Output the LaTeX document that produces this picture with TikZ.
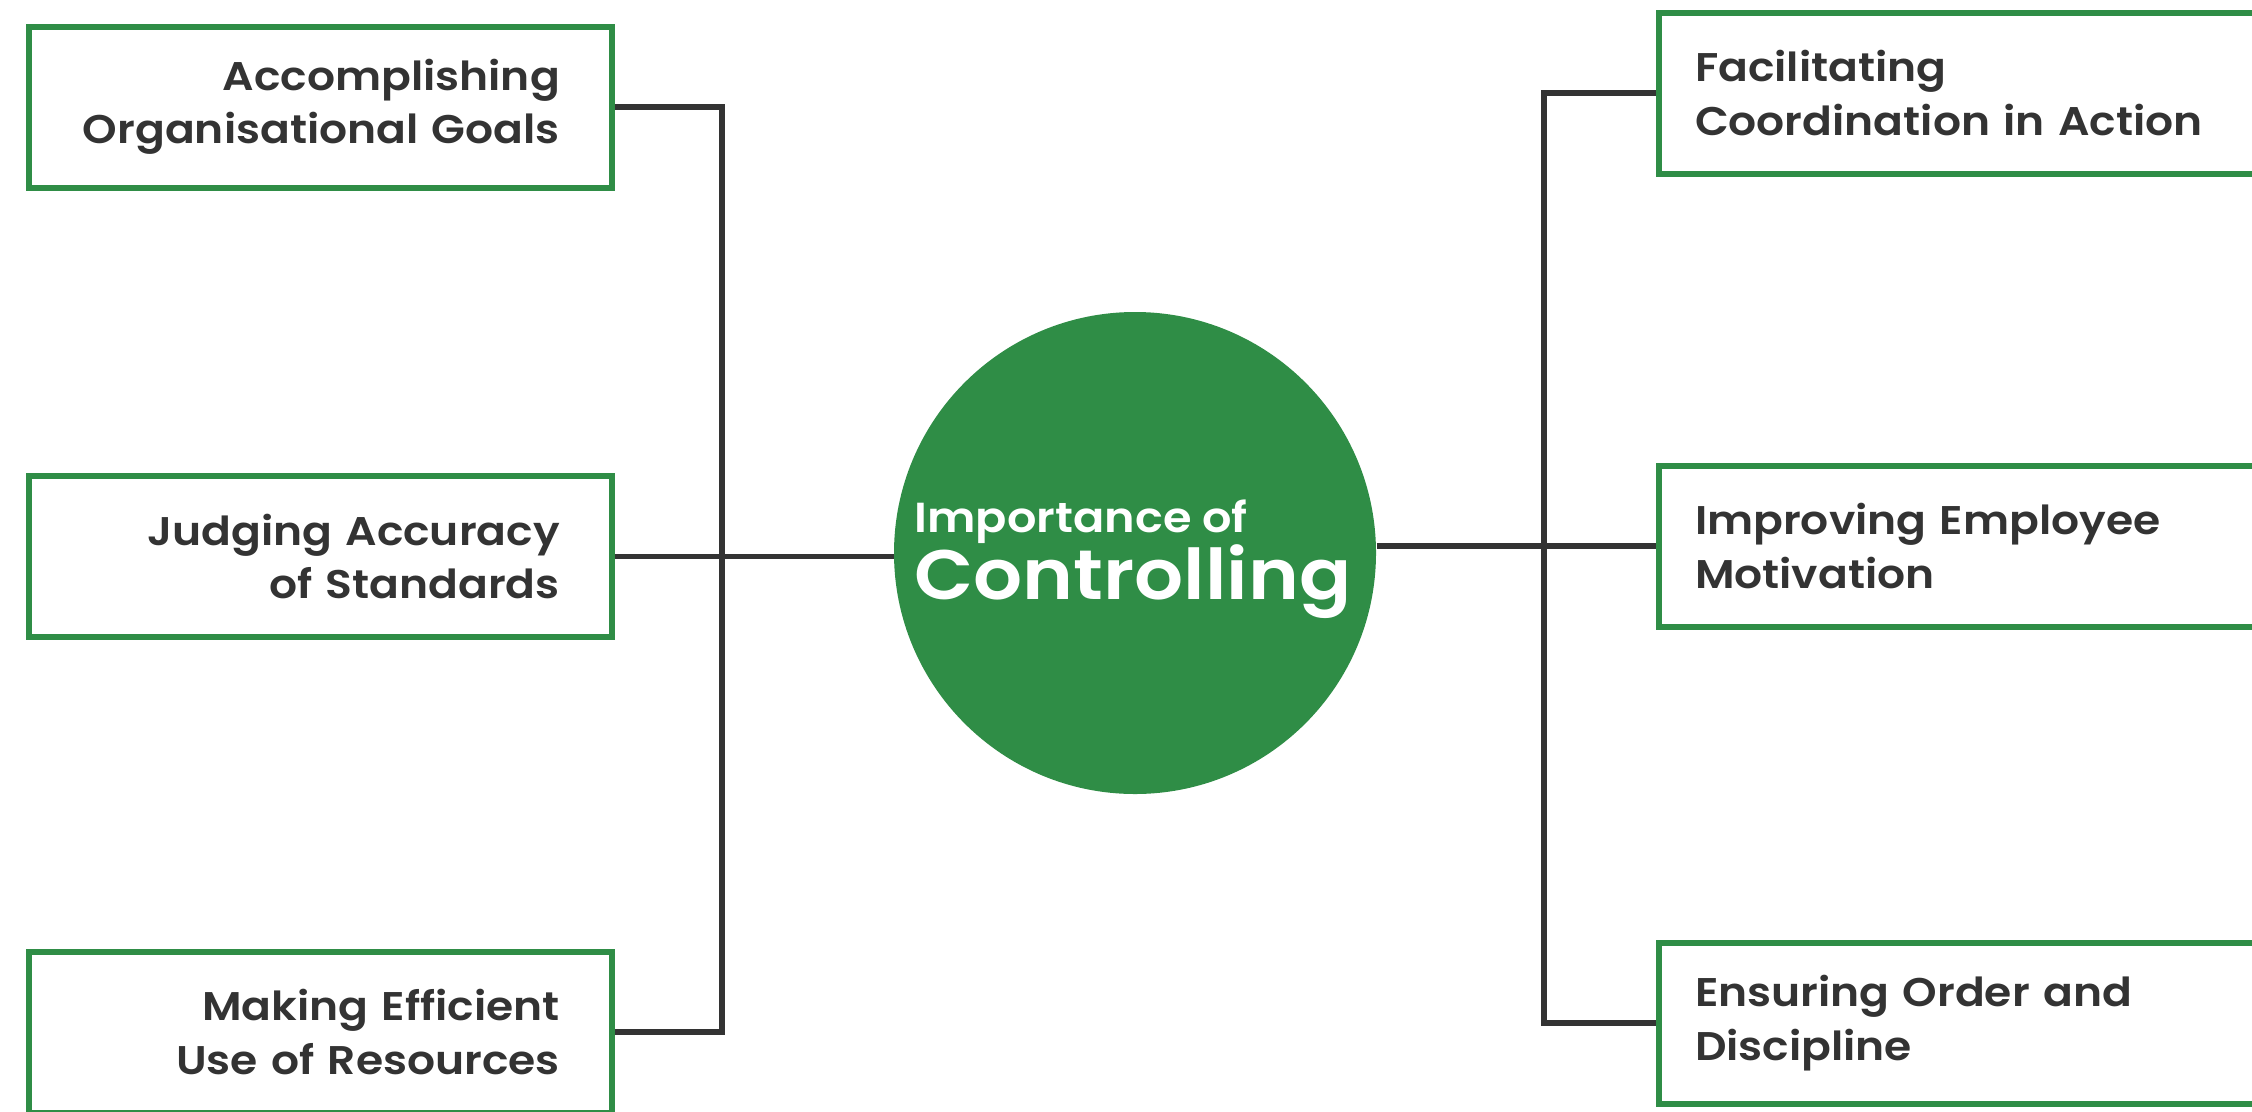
\documentclass[tikz,border=0pt]{standalone}
\usepackage{fontspec}
\setmainfont{Poppins}[BoldFont={Poppins SemiBold}, FakeStretch=1.1]
\definecolor{gfggreen}{RGB}{47,141,70}
\definecolor{inkgray}{RGB}{51,51,51}

\tikzset{every picture/.style={line width=0.75pt}}
\tikzset{
  leftbox/.style={draw=gfggreen, line width=4.5pt, fill=white, minimum height=120.75pt, text width=359pt, inner xsep=39pt, align=right, text=inkgray, font=\fontsize{30}{40}\selectfont\bfseries},
  rightbox/.style={draw=gfggreen, line width=4.5pt, fill=white, minimum height=120.75pt, text width=398.25pt, inner xsep=27pt, align=left, text=inkgray, font=\fontsize{30}{40}\selectfont\bfseries},
  hub/.style={circle, fill=gfggreen, minimum size=361.5pt, inner sep=0pt},
  link/.style={draw=inkgray, line width=4pt}
}

\begin{document}
\begin{tikzpicture}[x=0.75pt,y=0.75pt,yscale=-1,xscale=1]
    \useasboundingbox (0,0) rectangle (2252,1111);
    \path[clip] (0,0) rectangle (2252,1111);

    %Circle: centre
    \node [hub] (ctrl) at (1135,553) {};
    % Text Node
    \node [text=white, align=left, font=\bfseries, inner sep=0pt] (ctrltxt) at (1133,559) {\fontsize{31.5}{36}\selectfont Importance of\\ \fontsize{52.5}{58}\selectfont Controlling};

    %Boxes: left column
    \node [leftbox] (acc) at (320.5,107) {Accomplishing\\ Organisational Goals};
    \node [leftbox] (jud) at (320.5,556.5) {Judging Accuracy\\ of Standards};
    \node [leftbox] (eff) at (320.5,1032) {Making Efficient\\ Use of Resources};

    %Boxes: right column
    \node [rightbox] (fac) at (1960.5,93) {Facilitating\\ Coordination in Action};
    \node [rightbox] (imp) at (1960.5,546) {Improving Employee\\ Motivation};
    \node [rightbox] (ens) at (1960.5,1023) {Ensuring Order and\\ Discipline};

    %Trunks
    \coordinate (ltrunk) at (722,556);
    \coordinate (rtrunk) at (1544,546);

    %Straight Lines: left
    \draw [link] (acc.east) -| (ltrunk) |- (eff.east);
    \draw [link] (jud.east) -- (jud.east -| ctrl.west);
    %Straight Lines: right
    \draw [link] (ctrl.east |- imp.west) -- (imp.west);
    \draw [link] (fac.west) -| (rtrunk) |- (ens.west);

\end{tikzpicture}
\end{document}
